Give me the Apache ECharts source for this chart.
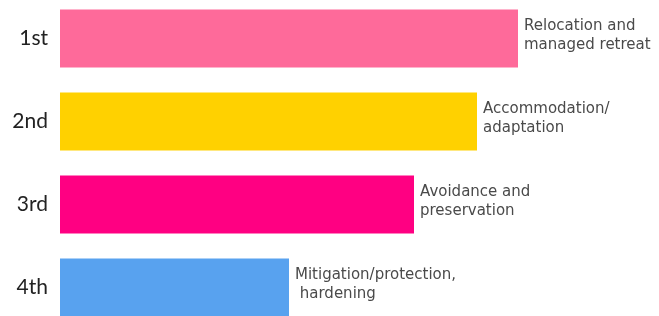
<!DOCTYPE html>
<html>
<head>
<meta charset="utf-8">
<script src="https://cdn.jsdelivr.net/npm/echarts@6/dist/echarts.min.js"></script>
<style>
    html, body { margin: 0; padding: 0; background: #fff; }
    #chart { width: 659px; height: 316px; }
</style>
</head>
<body>
<div id="chart"></div>
<script>
// Ranking of strategies | categories, values, bar labels
const ranks = ['1st', '2nd', '3rd', '4th'];
const scores = [91.6, 83.4, 70.8, 45.8];
const strategies = [
    'Relocation and\nmanaged retreat',
    'Accommodation/\nadaptation',
    'Avoidance and\npreservation',
    'Mitigation/protection,\n hardening'
];

// bar colours, one per rank
const barColors = ['#FE6A9A', '#FFD100', '#FF0082', '#58A2EF'];

const chart = echarts.init(document.getElementById('chart'));

const option = {
    animation: false,
    grid: {
        left: 60,
        top: -3,
        width: 500,
        height: 332,
        outerBoundsMode: 'none'
    },
    xAxis: {
        type: 'value',
        min: 0,
        max: 100,
        show: false
    },
    yAxis: {
        type: 'category',
        inverse: true,
        data: ranks,
        axisLine: { show: false },
        axisTick: { show: false },
        axisLabel: {
            margin: 12,
            color: '#222',
            fontSize: 21,
            fontFamily: 'Lato',
            padding: [4, 0, 0, 0]
        }
    },
    series: [
        {
            type: 'bar',
            barCategoryGap: '30%',
            data: scores.map((v, i) => ({
                value: v,
                itemStyle: { color: barColors[i] }
            })),
            label: {
                show: true,
                position: 'right',
                distance: 6,
                offset: [0, -3],
                align: 'left',
                formatter: p => strategies[p.dataIndex],
                color: '#4a4a4a',
                fontSize: 15,
                lineHeight: 19,
                fontFamily: 'DejaVu Sans'
            }
        }
    ]
};

chart.setOption(option);
</script>
</body>
</html>
